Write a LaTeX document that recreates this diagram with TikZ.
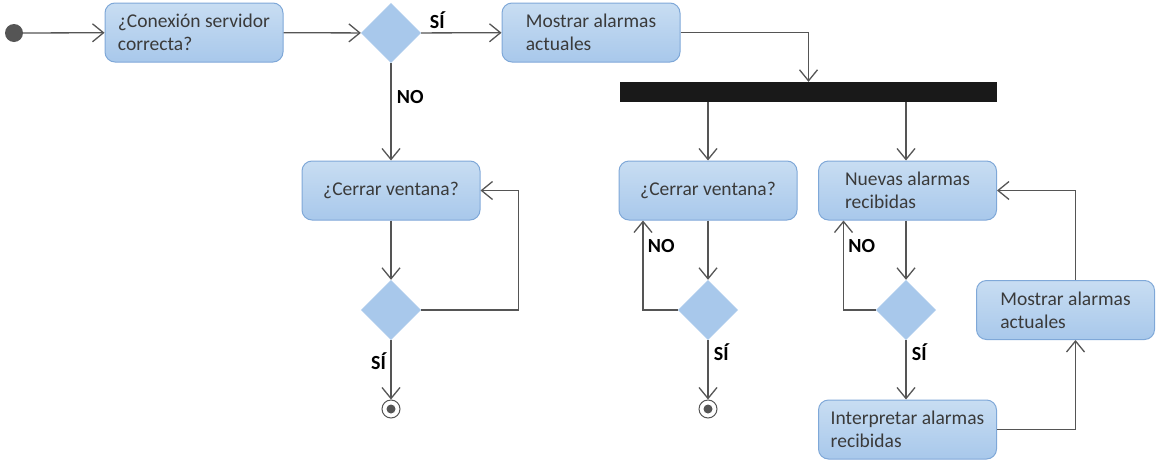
\documentclass[tikz,border=0pt]{standalone}
\usepackage{fontspec}
\setmainfont{Carlito}
\usetikzlibrary{arrows.meta}
\usetikzlibrary{shapes.geometric}

\definecolor{acttop}{HTML}{C8DDF2}
\definecolor{actbot}{HTML}{A8C8EB}
\definecolor{actedge}{HTML}{7FA8D8}
\definecolor{acttext}{HTML}{3A3A3A}
\definecolor{linegray}{HTML}{555555}

\tikzset{
    act/.style={draw=actedge, line width=1pt, top color=acttop, bottom color=actbot,
        rounded corners=10pt, minimum width=178pt, minimum height=59pt,
        align=left, text=acttext, inner sep=0pt, font=\fontsize{19.5}{23}\selectfont},
    choice/.style={diamond, fill=actbot, draw=acttop, minimum width=60pt,
        minimum height=60pt, inner sep=0pt},
    flow/.style={draw=linegray, line width=1.3pt, -{Straight Barb[length=11pt, width=18pt]}},
    lbl/.style={font=\bfseries\fontsize{20}{22}\selectfont},
    final/.style={circle, draw=linegray, line width=1pt, fill=white, minimum size=18pt, inner sep=0pt}
}

\begin{document}
\begin{tikzpicture}[x=1pt, y=-1pt]
\useasboundingbox (0,0) rectangle (1156,461);

% start and first check
\node[circle, fill=linegray, minimum size=18pt, inner sep=0pt] (start) at (14,33) {};
\node[act] (conexion) at (194,32.5) {¿Conexión servidor\\correcta?};
\node[choice] (dec1) at (391,33) {};
\node[act] (mostrar1) at (591,32.5) {Mostrar alarmas\\actuales};
\node[fill=black!90, minimum width=377pt, minimum height=20pt, inner sep=0pt] (fork) at (808.5,92) {};

\draw[flow] (start) -- (conexion);
\draw[flow] (conexion) -- (dec1);
\draw[flow] (dec1) -- (mostrar1) node[lbl, pos=0.2, above] {SÍ};
\draw[flow] (mostrar1.east) -| (fork.north);

% connection failed
\node[act] (cerrar1) at (391,190.5) {¿Cerrar ventana?};
\node[choice] (dec2) at (391,310) {};
\node[final] (end1) at (391,409) {};
\fill[linegray] (end1.center) circle (4.5pt);

\draw[flow] (dec1) -- (cerrar1) node[lbl, pos=0.35, right=2pt] {NO};
\draw[flow] (cerrar1) -- (dec2);
\draw[flow] (dec2.east) -- ++(97,0) |- (cerrar1.east);
\draw[flow] (dec2) -- (end1) node[lbl, pos=0.35, left=1pt] {SÍ};

% left branch of the fork
\node[act] (cerrar2) at (708,190.5) {¿Cerrar ventana?};
\node[choice] (dec3) at (708,310) {};
\node[final] (end2) at (708,409) {};
\fill[linegray] (end2.center) circle (4.5pt);

\draw[flow] (fork.south -| cerrar2.north) -- (cerrar2);
\draw[flow] (cerrar2) -- (dec3);
\draw[flow] (dec3.west) -| ([xshift=-65pt]cerrar2.south) node[lbl, pos=0.86, right=1pt] {NO};
\draw[flow] (dec3) -- (end2) node[lbl, pos=0.2, right=2pt] {SÍ};

% right branch of the fork
\node[act] (nuevas) at (907.5,190.5) {Nuevas alarmas\\recibidas};
\node[choice] (dec4) at (906,310) {};
\node[act] (interp) at (907.5,429.5) {Interpretar alarmas\\recibidas};
\node[act] (mostrar2) at (1065.5,310) {Mostrar alarmas\\actuales};

\draw[flow] (fork.south -| dec4.north) -- (dec4.north |- nuevas.north);
\draw[flow] (nuevas.south -| dec4.north) -- (dec4);
\draw[flow] (dec4.west) -| ([xshift=-64pt]nuevas.south) node[lbl, pos=0.86, right=1pt] {NO};
\draw[flow] (dec4) -- (dec4.south |- interp.north) node[lbl, pos=0.2, right=2pt] {SÍ};
\draw[flow] (interp.east) -| ([xshift=10pt]mostrar2.south);
\draw[flow] ([xshift=10pt]mostrar2.north) |- (nuevas.east);

\end{tikzpicture}
\end{document}
